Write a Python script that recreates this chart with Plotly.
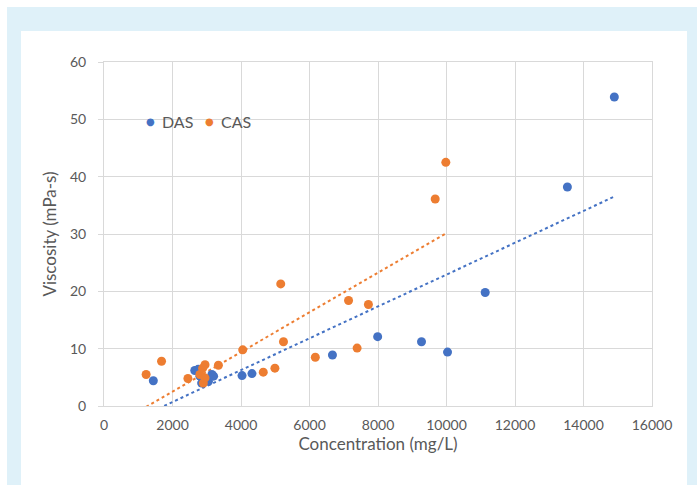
import numpy as np
import plotly.graph_objects as go

# ---- data ----
das_x = [1440, 2650, 2750, 2800, 2850, 3050, 3150, 3200, 4030, 4320, 6670, 7990, 9270, 10030, 11130, 13530, 14900]
das_y = [4.4, 6.2, 6.4, 5.2, 4.0, 4.3, 5.5, 5.2, 5.3, 5.65, 8.9, 12.1, 11.2, 9.4, 19.8, 38.2, 53.9]

cas_x = [1230, 1680, 2450, 2800, 2880, 2900, 2950, 2950, 3340, 4050, 4650, 4990, 5160, 5240, 6170, 7140, 7390, 7720, 9670, 9980]
cas_y = [5.5, 7.8, 4.8, 5.5, 6.6, 4.0, 7.2, 4.9, 7.1, 9.8, 5.9, 6.6, 21.3, 11.2, 8.5, 18.4, 10.1, 17.7, 36.1, 42.5]

series_names = ["DAS", "CAS"]
x_ticks = [0, 2000, 4000, 6000, 8000, 10000, 12000, 14000, 16000]
y_ticks = [0, 10, 20, 30, 40, 50, 60]

BLUE = "#4472C4"
ORANGE = "#ED7D31"
GRID = "#d9d9d9"
TXT = "#595959"
FONT = "Lato"

W, H = 697, 485
L, R, T, B = 104, 45, 62, 79
pw, ph = W - L - R, H - T - B


def px2paper_x(px):
    return (px - L) / pw


def px2paper_y(py):
    return (H - B - py) / ph


def trend(xs, ys):
    m, c = np.polyfit(xs, ys, 1)
    xx = np.array([min(xs), max(xs)], dtype=float)
    return xx, m * xx + c


fig = go.Figure()

# trendlines (least-squares fit of each series)
for xs, ys, col in [(cas_x, cas_y, ORANGE), (das_x, das_y, BLUE)]:
    tx, ty = trend(xs, ys)
    fig.add_trace(go.Scatter(x=tx, y=ty, mode="lines", showlegend=False,
                             line=dict(color=col, width=2, dash="dot"), hoverinfo="skip"))

# data points
fig.add_trace(go.Scatter(x=das_x, y=das_y, mode="markers", name=series_names[0], showlegend=False,
                         marker=dict(color=BLUE, size=9)))
fig.add_trace(go.Scatter(x=cas_x, y=cas_y, mode="markers", name=series_names[1], showlegend=False,
                         marker=dict(color=ORANGE, size=9)))

# legend drawn as text (Excel-style compact spacing)
leg_y = px2paper_y(121)
for name, col, dot_px, txt_px in [(series_names[0], BLUE, 150, 160), (series_names[1], ORANGE, 209, 219)]:
    fig.add_annotation(xref="paper", yref="paper", x=px2paper_x(dot_px), y=leg_y,
                       text="●", showarrow=False, xanchor="center", yanchor="middle",
                       font=dict(size=10, color=col, family="DejaVu Sans"))
    fig.add_annotation(xref="paper", yref="paper", x=px2paper_x(txt_px), y=leg_y,
                       text=name, showarrow=False, xanchor="left", yanchor="middle",
                       font=dict(size=16, color=TXT, family=FONT))

# background panels
fig.add_shape(type="rect", xref="paper", yref="paper", layer="below",
              x0=px2paper_x(7), x1=px2paper_x(697), y0=px2paper_y(485), y1=px2paper_y(7),
              fillcolor="#dff1f9", line=dict(width=0))
fig.add_shape(type="rect", xref="paper", yref="paper", layer="below",
              x0=px2paper_x(21), x1=px2paper_x(687), y0=px2paper_y(485), y1=px2paper_y(31),
              fillcolor="white", line=dict(width=0))

fig.update_layout(
    width=W, height=H,
    margin=dict(l=L, r=R, t=T, b=B),
    paper_bgcolor="white",
    plot_bgcolor="rgba(0,0,0,0)",
    font=dict(family=FONT, color=TXT),
    showlegend=False,
    xaxis=dict(range=[0, 16000], tickvals=x_ticks, ticktext=[str(v) for v in x_ticks],
               showgrid=True, gridcolor=GRID, gridwidth=1, zeroline=False,
               showline=True, linecolor=GRID, mirror=True,
               tickfont=dict(size=14, color=TXT), ticks="", ticklabelstandoff=6,
               title=dict(text="Concentration (mg/L)", font=dict(size=17, color=TXT), standoff=1)),
    yaxis=dict(range=[0, 60], tickvals=y_ticks, ticktext=[str(v) for v in y_ticks],
               showgrid=True, gridcolor=GRID, gridwidth=1, zeroline=False,
               showline=True, linecolor=GRID, mirror=True,
               ticks="outside", ticklen=5, tickcolor=GRID, ticklabelstandoff=9,
               tickfont=dict(size=14, color=TXT),
               title=dict(text="Viscosity (mPa-s)", font=dict(size=17, color=TXT), standoff=9)),
)

fig.write_html("out.html")
